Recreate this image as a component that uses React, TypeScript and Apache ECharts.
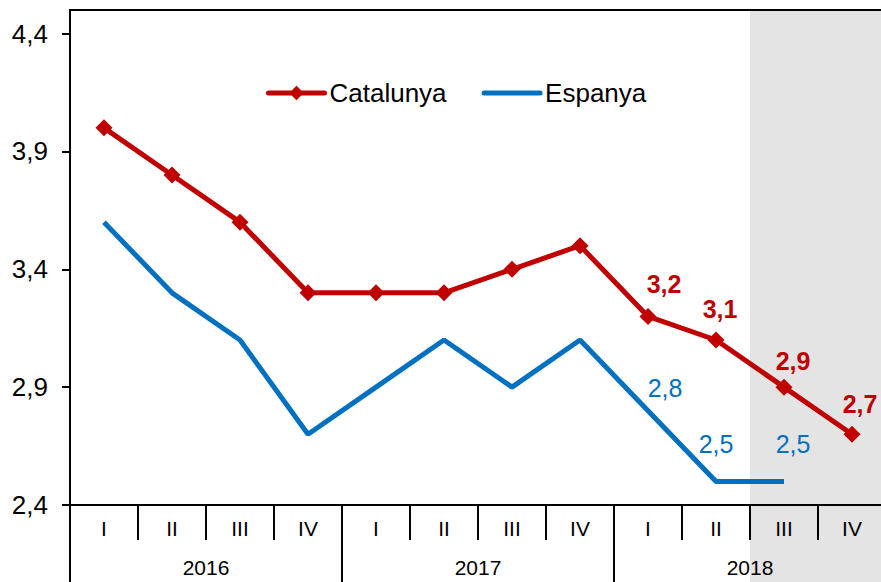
import React, { useEffect, useRef } from "react";
import * as echarts from "echarts";

const quarters = ["I", "II", "III", "IV", "I", "II", "III", "IV", "I", "II", "III", "IV"];
const years = ["2016", "2017", "2018"];
const catalunya = [4.0, 3.8, 3.6, 3.3, 3.3, 3.3, 3.4, 3.5, 3.2, 3.1, 2.9, 2.7];
const espanya: (number | null)[] = [3.6, 3.3, 3.1, 2.7, 2.9, 3.1, 2.9, 3.1, 2.8, 2.5, 2.5, null];
const yTicks = [2.4, 2.9, 3.4, 3.9, 4.4];
const catLabeled = [8, 9, 10, 11];
const espLabeled = [8, 9, 10];
const shadeStart = 10; // index of first shaded quarter (III 2018)
const shadeEnd = 12;

const FONT = "'Liberation Sans', Arial, sans-serif";
const RED = "#C00000";
const BLUE = "#0070C0";
const GRAY = "#E4E4E4";

// label offsets (style only)
const catOffsets: Record<number, [number, number]> = { 8: [16, -11], 9: [4, -10], 10: [9, -5], 11: [8, -9] };
const espOffsets: Record<number, [number, number]> = { 8: [17, -10], 9: [0, -25], 10: [9, -25] };

const fmt = (v: number) => v.toFixed(1).replace(".", ",");

export default function App() {
  const ref = useRef<HTMLDivElement>(null);
  useEffect(() => {
    if (!ref.current) return;
    const chart = echarts.init(ref.current, undefined, { renderer: "svg" });
    const catData = catalunya.map((v, i) =>
      catLabeled.includes(i)
        ? { value: v, label: { show: true, offset: catOffsets[i] } }
        : v
    );
    const espData = espanya.map((v, i) =>
      espLabeled.includes(i)
        ? { value: v, label: { show: true, offset: espOffsets[i] } }
        : v
    );
    chart.setOption({
      animation: false,
      textStyle: { fontFamily: FONT },
      legend: {
        data: [
          { name: "Catalunya" },
          { name: "Espanya", itemStyle: { opacity: 0 } },
        ],
        left: 266,
        top: 80,
        padding: 0,
        itemWidth: 56,
        itemHeight: 18,
        itemGap: 35,
        lineStyle: { width: 5, cap: "round" },
        textStyle: { fontSize: 26, color: "#000", fontFamily: FONT },
      },
      grid: [
        { left: 70, right: 0, top: 10, bottom: 77, show: true, borderColor: "#000", borderWidth: 2, backgroundColor: "transparent", z: 10 },
        { left: 70, right: 0, top: 505, bottom: 0 },
      ],
      xAxis: [
        {
          type: "category",
          gridIndex: 0,
          data: quarters,
          position: "bottom",
          z: 5,
          axisLine: { show: true, lineStyle: { color: "#000", width: 2 } },
          axisTick: { show: true, length: 35, lineStyle: { color: "#000", width: 2 } },
          axisLabel: { fontSize: 21, color: "#000", margin: 13, fontFamily: FONT },
        },
        {
          type: "category",
          gridIndex: 0,
          data: years,
          position: "bottom",
          z: 5,
          axisLine: { show: false },
          axisTick: { show: true, length: 77, lineStyle: { color: "#000", width: 2 } },
          axisLabel: { fontSize: 21, color: "#000", margin: 52, fontFamily: FONT },
        },
        { type: "value", gridIndex: 0, min: 0, max: 12, show: false },
        { type: "value", gridIndex: 1, min: 0, max: 12, show: false },
      ],
      yAxis: [
        {
          type: "value",
          gridIndex: 0,
          min: 2.4,
          max: 4.5,
          axisLine: { show: true, lineStyle: { color: "#000", width: 2 } },
          axisTick: { show: true, length: 8, customValues: yTicks, lineStyle: { color: "#000", width: 2 } },
          axisLabel: {
            customValues: yTicks,
            fontSize: 26,
            color: "#000",
            margin: 22,
            fontFamily: FONT,
            formatter: (v: number) => fmt(v),
          },
          splitLine: { show: false },
        },
        { type: "value", gridIndex: 1, min: 0, max: 1, show: false },
      ],
      series: [
        {
          type: "line",
          xAxisIndex: 2,
          yAxisIndex: 0,
          data: [],
          z: 1,
          silent: true,
          markArea: {
            silent: true,
            itemStyle: { color: GRAY },
            data: [[{ xAxis: shadeStart }, { xAxis: shadeEnd }]],
          },
        },
        {
          type: "line",
          xAxisIndex: 3,
          yAxisIndex: 1,
          data: [],
          z: 1,
          silent: true,
          markArea: {
            silent: true,
            itemStyle: { color: GRAY },
            data: [[{ xAxis: shadeStart }, { xAxis: shadeEnd }]],
          },
        },
        {
          name: "Catalunya",
          type: "line",
          xAxisIndex: 0,
          yAxisIndex: 0,
          data: catData,
          color: RED,
          symbol: "diamond",
          symbolSize: 17,
          lineStyle: { width: 5, color: RED },
          itemStyle: { color: RED },
          z: 3,
          label: {
            show: false,
            position: "top",
            distance: 0,
            fontSize: 25,
            fontWeight: "bold",
            color: RED,
            fontFamily: FONT,
            formatter: (p: any) => fmt(p.value),
          },
        },
        {
          name: "Espanya",
          type: "line",
          xAxisIndex: 0,
          yAxisIndex: 0,
          data: espData,
          color: BLUE,
          symbol: "circle",
          symbolSize: 0,
          lineStyle: { width: 5, color: BLUE },
          itemStyle: { color: BLUE },
          z: 3,
          label: {
            show: false,
            position: "top",
            distance: 0,
            fontSize: 25,
            color: BLUE,
            fontFamily: FONT,
            formatter: (p: any) => fmt(p.value),
          },
        },
      ],
    });
    return () => chart.dispose();
  }, []);
  return (
    <div
      ref={ref}
      style={{ position: "fixed", left: 0, top: 0, width: 886, height: 582, background: "#fff" }}
    />
  );
}
